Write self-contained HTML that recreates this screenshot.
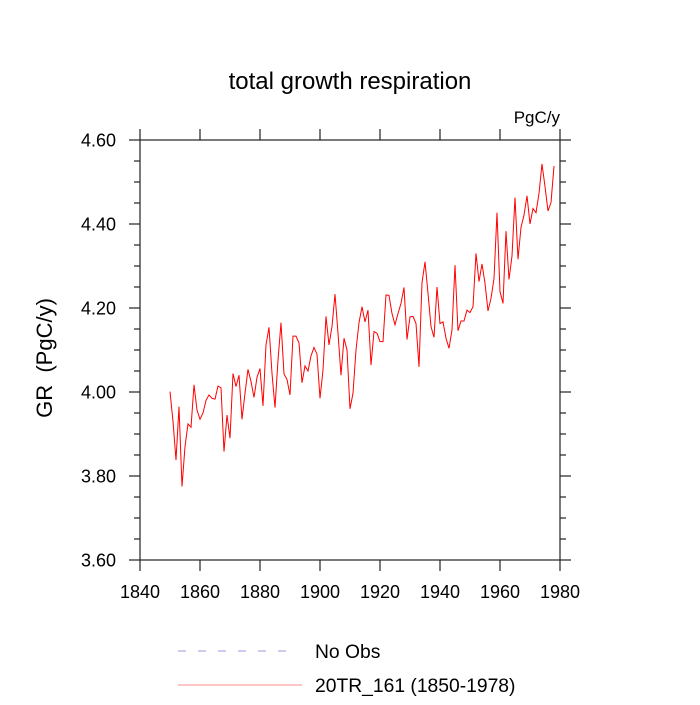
<!DOCTYPE html>
<html><head><meta charset="utf-8"><style>
html,body{margin:0;padding:0;background:#fff;}
svg text{font-family:"Liberation Sans",sans-serif;fill:#000;white-space:pre;}
</style></head><body>
<svg id="chart" width="700" height="700" viewBox="0 0 700 700" xmlns="http://www.w3.org/2000/svg">
<text x="350" y="89" font-size="24" text-anchor="middle">total growth respiration</text>
<text x="560" y="123" font-size="17" text-anchor="end">PgC/y</text>
<text xml:space="preserve" transform="translate(52,358) rotate(-90)" font-size="22" text-anchor="middle">GR  (PgC/y)</text>
<g id="axes"></g>
<g id="series"></g>
<g>
<line x1="178" y1="651" x2="293" y2="651" stroke="#9999dd" stroke-width="1" stroke-dasharray="8,12"/>
<text x="315" y="658" font-size="19.3">No Obs</text>
<line x1="178" y1="685" x2="302" y2="685" stroke="#ff8888" stroke-width="1"/>
<text x="315" y="692" font-size="19.3">20TR_161 (1850-1978)</text>
</g>
</svg>
<script>
const startYear = 1850;
const grValues = [4.001,3.93,3.838,3.965,3.775,3.87,3.924,3.916,4.017,3.957,
3.935,3.95,3.98,3.993,3.985,3.983,4.014,4.01,3.858,3.945,
3.89,4.044,4.013,4.04,3.935,3.997,4.054,4.025,3.987,4.035,
4.056,3.967,4.112,4.154,4.044,3.963,4.076,4.165,4.043,4.03,
3.993,4.133,4.133,4.117,4.022,4.062,4.05,4.086,4.106,4.09,
3.985,4.052,4.18,4.112,4.156,4.233,4.14,4.04,4.128,4.1,
3.96,3.997,4.10,4.165,4.203,4.167,4.195,4.064,4.144,4.14,
4.12,4.12,4.231,4.23,4.187,4.16,4.187,4.211,4.249,4.125,
4.179,4.18,4.163,4.06,4.26,4.31,4.235,4.156,4.13,4.25,
4.163,4.167,4.128,4.104,4.148,4.302,4.146,4.169,4.169,4.195,
4.189,4.203,4.33,4.263,4.305,4.259,4.193,4.223,4.27,4.427,
4.239,4.211,4.383,4.268,4.324,4.463,4.316,4.392,4.421,4.467,
4.4,4.437,4.427,4.473,4.543,4.489,4.431,4.451,4.538];
const xTicks = [1840,1860,1880,1900,1920,1940,1960,1980];
const yTicks = [3.6,3.8,4.0,4.2,4.4,4.6];
const yMinorStep = 0.05;

const L=140,R=560,T=140,B=560;
const xMin=1840,xMax=1980,yMin=3.6,yMax=4.6;
const xs=v=>L+(v-xMin)/(xMax-xMin)*(R-L);
const ys=v=>B-(v-yMin)/(yMax-yMin)*(B-T);
const NS="http://www.w3.org/2000/svg";
const axes=document.getElementById('axes');
function mk(tag,attrs,parent){const e=document.createElementNS(NS,tag);for(const k in attrs)e.setAttribute(k,attrs[k]);parent.appendChild(e);return e;}

const frame=mk('rect',{x:L,y:T,width:R-L,height:B-T,fill:'none',stroke:'#222','stroke-width':1.2},axes);



xTicks.forEach(v=>{
  const x=xs(v);
  const t1=mk('line',{x1:x,y1:B,x2:x,y2:B+11,stroke:'#222','stroke-width':1.2},axes);
  
  
  const t2=mk('line',{x1:x,y1:T,x2:x,y2:T-11,stroke:'#222','stroke-width':1.2},axes);
  
  
  const lb=mk('text',{x:x,y:B+38,'font-size':18,'text-anchor':'middle'},axes);
  lb.textContent=String(v);
  
  
});
const nMinor=Math.round((yMax-yMin)/yMinorStep);
for(let i=0;i<=nMinor;i++){
  const v=yMin+i*yMinorStep;
  const isMajor=(i%4===0);
  const y=ys(v), len=isMajor?11:6;
  const a=mk('line',{x1:L,y1:y,x2:L-len,y2:y,stroke:'#222','stroke-width':1.2},axes);
  
  
  const b=mk('line',{x1:R,y1:y,x2:R+len,y2:y,stroke:'#222','stroke-width':1.2},axes);
  
  
}
yTicks.forEach(v=>{
  const lb=mk('text',{x:L-24,y:ys(v)+6.5,'font-size':18,'text-anchor':'end'},axes);
  lb.textContent=v.toFixed(2);
  
  
});
const pts=grValues.map((v,i)=>xs(startYear+i).toFixed(2)+','+ys(v).toFixed(2)).join(' ');
const line=mk('polyline',{points:pts,fill:'none',stroke:'#ff0000','stroke-width':1},document.getElementById('series'));


</script>
</body></html>
